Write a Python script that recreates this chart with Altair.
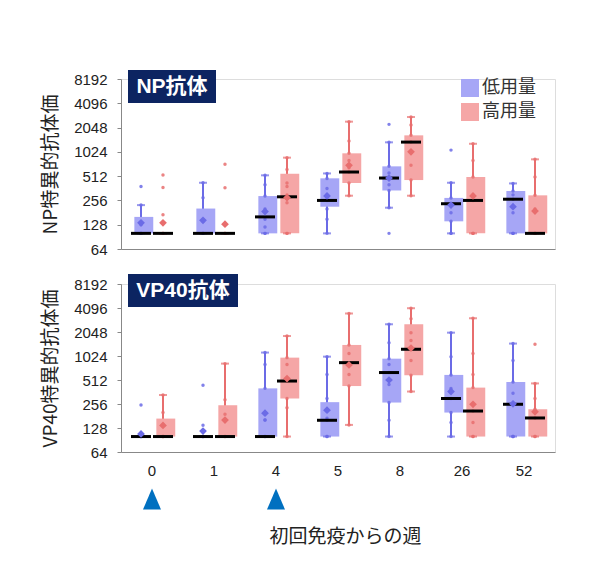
import altair as alt
import pandas as pd

weeks = ["0", "1", "4", "5", "8", "26", "52"]
groups = ["低用量", "高用量"]
vacc_weeks = ["0", "4"]

# ---- NP antibody: box statistics per week ----
np_low_lo = [100, 100, 100, 100, 208, 100, 100]
np_low_q1 = [100, 100, 100, 214, 340, 141, 100]
np_low_med = [100, 100, 160, 256, 485, 233, 265]
np_low_q3 = [160, 203, 290, 481, 677, 275, 335]
np_low_hi = [224, 424, 524, 553, 1344, 424, 416]
np_low_mean = [135, 145, 186, 291, 485, 224, 214]

np_high_lo = [100, 100, 100, 293, 293, 100, 100]
np_high_q1 = [100, 100, 100, 421, 458, 100, 100]
np_high_med = [100, 100, 284, 576, 1353, 256, 100]
np_high_q3 = [100, 100, 548, 982, 1640, 500, 296]
np_high_hi = [100, 100, 868, 2424, 2767, 1290, 827]
np_high_mean = [135, 130, 277, 697, 1025, 291, 189]

np_low_pts = [
    [100, 100, 100, 128, 224, 380],
    [100, 100, 100, 140, 277, 424],
    [100, 100, 120, 150, 200, 290, 400, 524],
    [100, 150, 200, 256, 280, 300, 360, 480, 553],
    [100, 208, 340, 400, 485, 560, 677, 1344, 2244],
    [100, 100, 141, 180, 233, 275, 424, 1076],
    [100, 100, 100, 180, 265, 300, 335, 416],
]
np_high_pts = [
    [100, 100, 100, 170, 370, 530],
    [100, 100, 100, 367, 719],
    [100, 100, 240, 270, 300, 380, 420, 620, 868],
    [293, 421, 576, 650, 800, 982, 1400, 2424],
    [293, 458, 700, 1000, 1353, 1640, 2200, 2767],
    [100, 100, 100, 256, 300, 500, 800, 1290],
    [100, 100, 100, 100, 200, 296, 500, 827],
]

# ---- VP40 antibody: box statistics per week ----
vp_low_lo = [100, 100, 100, 100, 100, 100, 100]
vp_low_q1 = [100, 100, 100, 100, 267, 200, 100]
vp_low_med = [100, 100, 100, 160, 635, 300, 254]
vp_low_q3 = [100, 100, 402, 270, 948, 593, 484]
vp_low_hi = [100, 100, 1131, 1005, 2560, 2009, 1466]
vp_low_mean = [108, 117, 196, 214, 512, 367, 257]

vp_high_lo = [100, 100, 100, 140, 367, 100, 100]
vp_high_q1 = [100, 100, 300, 430, 588, 100, 100]
vp_high_med = [100, 100, 497, 845, 1244, 209, 171]
vp_high_q3 = [168, 247, 977, 1409, 2560, 411, 220]
vp_high_hi = [332, 822, 1823, 3495, 4070, 3047, 464]
vp_high_mean = [138, 161, 533, 792, 1290, 254, 204]

vp_low_pts = [
    [100, 100, 100, 100, 249],
    [100, 100, 100, 139, 439],
    [100, 100, 161, 161, 402, 800, 1131],
    [100, 100, 160, 170, 300, 600, 1005],
    [100, 160, 267, 450, 635, 800, 948, 1500, 2560],
    [100, 150, 200, 300, 400, 593, 1000, 2009],
    [100, 100, 100, 254, 350, 484, 900, 1466],
]
vp_high_pts = [
    [100, 100, 100, 140, 200, 332],
    [100, 100, 190, 290, 822],
    [100, 230, 300, 497, 800, 977, 1823],
    [140, 430, 600, 845, 1100, 1409, 3495],
    [367, 588, 900, 1244, 1600, 2000, 3000, 4070],
    [100, 100, 150, 209, 411, 600, 1100, 3047],
    [100, 100, 171, 220, 300, 464, 1438],
]

y_ticks = [64, 128, 256, 512, 1024, 2048, 4096, 8192]

FILLS = ["#A6A6F6", "#F5A6A6"]
STROKES = ["#6B6BE6", "#E86E6E"]
NAVY = "#0C2461"
FONT = "Liberation Sans, Noto Sans CJK JP"
CJK = "Noto Sans CJK JP"


def stats_df(specs):
    rows = []
    for group, lo, q1, med, q3, hi, mean in specs:
        for i, w in enumerate(weeks):
            rows.append(dict(week=w, group=group, g=group, lo=lo[i], q1=q1[i],
                             med=med[i], q3=q3[i], hi=hi[i], mean=mean[i]))
    return pd.DataFrame(rows)


def pts_df(specs):
    rows = []
    for group, lists in specs:
        for i, w in enumerate(weeks):
            for v in lists[i]:
                rows.append(dict(week=w, group=group, g=group, value=v))
    return pd.DataFrame(rows)


np_stats = stats_df([
    ("低用量", np_low_lo, np_low_q1, np_low_med, np_low_q3, np_low_hi, np_low_mean),
    ("高用量", np_high_lo, np_high_q1, np_high_med, np_high_q3, np_high_hi, np_high_mean),
])
vp_stats = stats_df([
    ("低用量", vp_low_lo, vp_low_q1, vp_low_med, vp_low_q3, vp_low_hi, vp_low_mean),
    ("高用量", vp_high_lo, vp_high_q1, vp_high_med, vp_high_q3, vp_high_hi, vp_high_mean),
])
np_pts = pts_df([("低用量", np_low_pts), ("高用量", np_high_pts)])
vp_pts = pts_df([("低用量", vp_low_pts), ("高用量", vp_high_pts)])


def make_panel(stats, pts, height, ytitle, badge, badge_w, badge_top, bottom):
    if bottom:
        xaxis = alt.Axis(title="初回免疫からの週", labelAngle=0, ticks=False,
                         labelFontSize=15, labelPadding=11, labelColor="#222",
                         titleFontSize=19, titleFont=CJK, titleFontWeight="normal",
                         titleColor="#222", titleX=224, titleY=75,
                         domainColor="#888", grid=False)
    else:
        xaxis = alt.Axis(title=None, labels=False, ticks=False,
                         domainColor="#888", grid=False)
    xscale = alt.Scale(domain=weeks, paddingInner=0, paddingOuter=0)
    x = alt.X("week:N", sort=weeks, scale=xscale, axis=xaxis)
    xo = alt.XOffset("group:N", sort=groups,
                     scale=alt.Scale(domain=groups, paddingInner=0, paddingOuter=0.41))
    yscale = alt.Scale(type="log", base=2, domain=[64, 8192], nice=False)
    yaxis = alt.Axis(values=y_ticks, format="d", title=ytitle, grid=False,
                     labelFontSize=15, labelColor="#222", labelPadding=10,
                     tickSize=4, tickColor="#888", domainColor="#888",
                     titleFontSize=19, titleFont=CJK, titleFontWeight="normal",
                     titleColor="#222", titlePadding=13)
    # stroke colours: data-derived domain (sorted 低 < 高) so this scale's
    # hidden legend is not merged with the fill legend below
    color = alt.Color("g:N", scale=alt.Scale(range=STROKES), legend=None)
    if bottom:
        flegend = None
    else:
        flegend = alt.Legend(title=None, orient="none", legendX=340, legendY=0,
                             symbolType="square", symbolSize=324, symbolStrokeWidth=0,
                             symbolOpacity=1, labelFontSize=18, labelFont=CJK,
                             labelColor="#333", rowPadding=6, labelOffset=3)
    fill = alt.Fill("group:N", scale=alt.Scale(domain=groups, range=FILLS), legend=flegend)

    base = alt.Chart(stats)
    whisk = base.mark_rule(strokeWidth=2).encode(
        x=x, xOffset=xo, y=alt.Y("lo:Q", scale=yscale, axis=yaxis), y2="hi:Q", color=color)
    box = base.mark_bar(width=alt.RelativeBandSize(0.86), opacity=1).encode(
        x=x, xOffset=xo, y=alt.Y("q1:Q", scale=yscale), y2="q3:Q", fill=fill)
    cap_lo = base.mark_tick(size=8, thickness=2).encode(
        x=x, xOffset=xo, y=alt.Y("lo:Q", scale=yscale), color=color)
    cap_hi = base.mark_tick(size=8, thickness=2).encode(
        x=x, xOffset=xo, y=alt.Y("hi:Q", scale=yscale), color=color)
    dots = alt.Chart(pts).mark_circle(size=12, opacity=0.85).encode(
        x=x, xOffset=xo, y=alt.Y("value:Q", scale=yscale), color=color)
    med = base.mark_tick(size=20, thickness=3, color="black", opacity=1).encode(
        x=x, xOffset=xo, y=alt.Y("med:Q", scale=yscale))
    mean = base.mark_point(shape="diamond", filled=True, size=60, opacity=1).encode(
        x=x, xOffset=xo, y=alt.Y("mean:Q", scale=yscale), color=color)

    bdf = pd.DataFrame({"t": [badge]})
    brect = alt.Chart(bdf).mark_rect(color=NAVY).encode(
        x=alt.value(7), x2=alt.value(7 + badge_w),
        y=alt.value(badge_top), y2=alt.value(badge_top + 33))
    btext = alt.Chart(bdf).mark_text(color="white", font=FONT, fontSize=21,
                                     fontWeight="bold", align="center",
                                     baseline="middle").encode(
        x=alt.value(7 + badge_w / 2), y=alt.value(badge_top + 17), text="t:N")

    layers = [whisk, box, cap_lo, cap_hi, dots, med, mean, brect, btext]
    if bottom:
        tri = alt.Chart(pd.DataFrame({"week": vacc_weeks})).mark_point(
            shape="M0,-1L-0.857,1L0.857,1Z", filled=True, size=441,
            color="#0070C0", opacity=1).encode(x=x, y=alt.value(215))
        layers.append(tri)
    return alt.layer(*layers).properties(width=434, height=height)


top = make_panel(np_stats, np_pts, 170, "NP特異的抗体価", "NP抗体", 88, -9, False)
bot = make_panel(vp_stats, vp_pts, 168, "VP40特異的抗体価", "VP40抗体", 110, -10, True)

chart = alt.vconcat(top, bot, spacing=15).resolve_scale(
    fill="independent", color="independent"
).resolve_legend(fill="independent", color="independent").properties(
    padding={"left": 33, "top": 61, "right": 5, "bottom": 5}
).configure_view(stroke=None).configure(font=FONT)

chart.save("out.html", embed_options={"renderer": "svg", "actions": False})
